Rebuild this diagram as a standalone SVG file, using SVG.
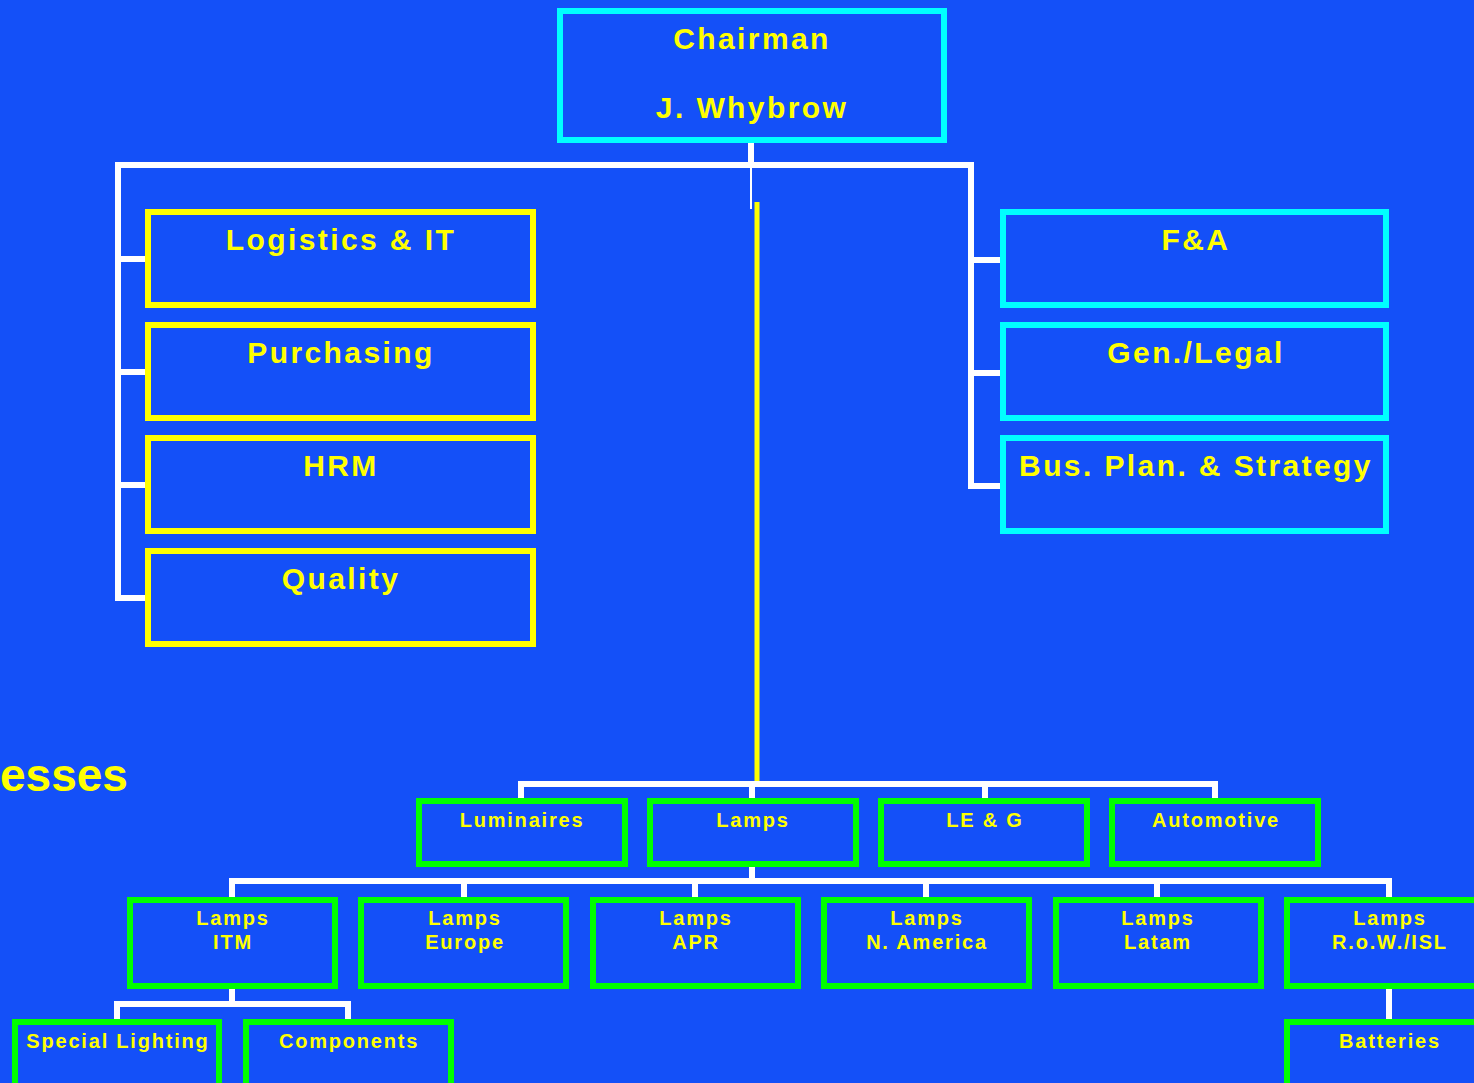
<svg xmlns="http://www.w3.org/2000/svg" width="1474" height="1083" viewBox="0 0 1474 1083">
  <style>
    .box { fill: none; stroke-width: 6; }
    .cyan { stroke: #00ffff; }
    .yellow { stroke: #ffff00; }
    .green { stroke: #00ff00; }
    .lbl { font-family: "Liberation Sans", Arial, sans-serif; font-weight: bold; fill: #ffff00; text-anchor: middle; }
    .big { font-size: 30px; letter-spacing: 2.4px; }
    .small { font-size: 20px; letter-spacing: 1.8px; }
    .wire { stroke: #ffffff; stroke-width: 6; fill: none; stroke-linecap: square; }
  </style>
  <rect width="1474" height="1083" fill="#1450f8"/>

  <!-- connectors -->
  <g id="connectors">
    <!-- chairman to staff functions -->
    <path class="wire" d="M751 143 V165 M118 165 H971 M118 165 V598 M118 259 H146 M118 372 H146 M118 485 H146 M118 598 H146"/>
    <path class="wire" d="M971 165 V486 M971 260 H1000 M971 373 H1000 M971 486 H1000"/>
    <line x1="751" y1="165" x2="751" y2="209" stroke="#ffffff" stroke-width="2"/>
    <line x1="757" y1="202" x2="757" y2="786" stroke="#ffff00" stroke-width="5"/>
    <!-- businesses -->
    <path class="wire" d="M521 784 H1215 M521 784 V799 M752 784 V799 M985 784 V799 M1215 784 V799"/>
    <!-- lamps regions -->
    <path class="wire" d="M752 866 V881 M232 881 H1389 M232 881 V897 M464 881 V897 M695 881 V897 M926 881 V897 M1157 881 V897 M1389 881 V897"/>
    <!-- sub-units -->
    <path class="wire" d="M232 989 V1004 M117 1004 H348 M117 1004 V1019 M348 1004 V1019"/>
    <path class="wire" d="M1389 989 V1019"/>
  </g>

  <g id="chairman">
    <rect class="box cyan" x="560" y="11" width="384" height="129"/>
    <text class="lbl big" x="752" y="49">Chairman</text>
    <text class="lbl big" x="752" y="118">J. Whybrow</text>
  </g>

  <g id="logistics">
    <rect class="box yellow" x="148" y="212" width="385" height="93"/>
    <text class="lbl big" x="341" y="250">Logistics &amp; IT</text>
  </g>
  <g id="purchasing">
    <rect class="box yellow" x="148" y="325" width="385" height="93"/>
    <text class="lbl big" x="341" y="363">Purchasing</text>
  </g>
  <g id="hrm">
    <rect class="box yellow" x="148" y="438" width="385" height="93"/>
    <text class="lbl big" x="341" y="476">HRM</text>
  </g>
  <g id="quality">
    <rect class="box yellow" x="148" y="551" width="385" height="93"/>
    <text class="lbl big" x="341" y="589">Quality</text>
  </g>

  <g id="fa">
    <rect class="box cyan" x="1003" y="212" width="383" height="93"/>
    <text class="lbl big" x="1196" y="250">F&amp;A</text>
  </g>
  <g id="legal">
    <rect class="box cyan" x="1003" y="325" width="383" height="93"/>
    <text class="lbl big" x="1196" y="363">Gen./Legal</text>
  </g>
  <g id="strategy">
    <rect class="box cyan" x="1003" y="438" width="383" height="93"/>
    <text class="lbl big" x="1196" y="476">Bus. Plan. &amp; Strategy</text>
  </g>

  <text x="0" y="791" font-family="'Liberation Sans', Arial, sans-serif" font-weight="bold" font-size="46" fill="#ffff00">esses</text>

  <g id="luminaires">
    <rect class="box green" x="419" y="801" width="206" height="63"/>
    <text class="lbl small" x="522" y="827">Luminaires</text>
  </g>
  <g id="lamps">
    <rect class="box green" x="650" y="801" width="206" height="63"/>
    <text class="lbl small" x="753" y="827">Lamps</text>
  </g>
  <g id="leg">
    <rect class="box green" x="881" y="801" width="206" height="63"/>
    <text class="lbl small" x="985" y="827">LE &amp; G</text>
  </g>
  <g id="automotive">
    <rect class="box green" x="1112" y="801" width="206" height="63"/>
    <text class="lbl small" x="1216" y="827">Automotive</text>
  </g>

  <g id="lamps-itm">
    <rect class="box green" x="130" y="900" width="205" height="86"/>
    <text class="lbl small" x="233" y="925">Lamps</text>
    <text class="lbl small" x="233" y="949">ITM</text>
  </g>
  <g id="lamps-europe">
    <rect class="box green" x="361" y="900" width="205" height="86"/>
    <text class="lbl small" x="465" y="925">Lamps</text>
    <text class="lbl small" x="465" y="949">Europe</text>
  </g>
  <g id="lamps-apr">
    <rect class="box green" x="593" y="900" width="205" height="86"/>
    <text class="lbl small" x="696" y="925">Lamps</text>
    <text class="lbl small" x="696" y="949">APR</text>
  </g>
  <g id="lamps-na">
    <rect class="box green" x="824" y="900" width="205" height="86"/>
    <text class="lbl small" x="927" y="925">Lamps</text>
    <text class="lbl small" x="927" y="949">N. America</text>
  </g>
  <g id="lamps-latam">
    <rect class="box green" x="1056" y="900" width="205" height="86"/>
    <text class="lbl small" x="1158" y="925">Lamps</text>
    <text class="lbl small" x="1158" y="949">Latam</text>
  </g>
  <g id="lamps-row">
    <rect class="box green" x="1287" y="900" width="205" height="86"/>
    <text class="lbl small" x="1390" y="925">Lamps</text>
    <text class="lbl small" x="1390" y="949">R.o.W./ISL</text>
  </g>

  <g id="special-lighting">
    <rect class="box green" x="15" y="1022" width="204" height="80"/>
    <text class="lbl small" x="118" y="1048">Special Lighting</text>
  </g>
  <g id="components">
    <rect class="box green" x="246" y="1022" width="205" height="80"/>
    <text class="lbl small" x="349" y="1048">Components</text>
  </g>
  <g id="batteries">
    <rect class="box green" x="1287" y="1022" width="205" height="80"/>
    <text class="lbl small" x="1390" y="1048">Batteries</text>
  </g>
</svg>
